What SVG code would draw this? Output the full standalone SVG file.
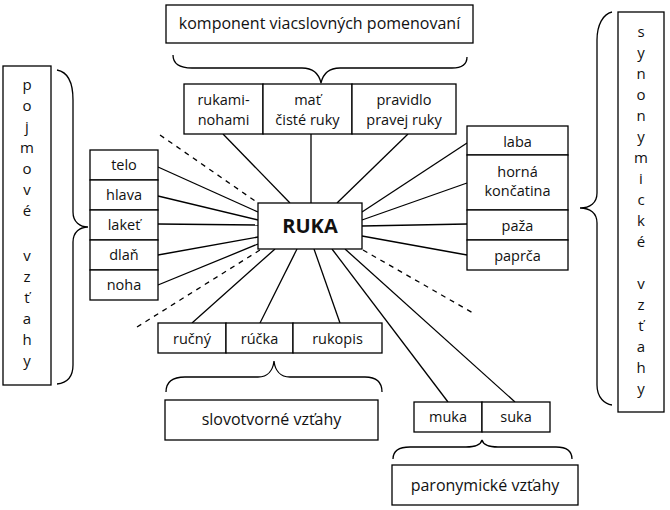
<svg xmlns="http://www.w3.org/2000/svg" width="670" height="510" viewBox="0 0 670 510">
<style>
.b{fill:#fff;stroke:#000;stroke-width:1.3}
.t{font-family:"Open Sans","Liberation Sans",sans-serif;font-size:14.5px;fill:#111;text-anchor:middle}
.l{font-size:16px}
.v{font-family:"Open Sans","Liberation Sans",sans-serif;font-size:15px;fill:#111;text-anchor:middle}
.c{stroke:#000;stroke-width:1.3;fill:none}
.d{stroke:#000;stroke-width:1.3;fill:none;stroke-dasharray:5,5}
.br{stroke:#000;stroke-width:1.3;fill:none}
</style>
<rect width="670" height="510" fill="#fff"/>
<g id="connectors">
<line class="c" x1="223" y1="134" x2="290" y2="203"/>
<line class="c" x1="311" y1="134" x2="311" y2="203"/>
<line class="c" x1="408" y1="134" x2="337" y2="203"/>
<line class="c" x1="362" y1="212" x2="467" y2="143"/>
<line class="c" x1="362" y1="220" x2="467" y2="183"/>
<line class="c" x1="362" y1="226" x2="467" y2="224"/>
<line class="c" x1="362" y1="236" x2="467" y2="255"/>
<line class="c" x1="158" y1="167" x2="258" y2="212"/>
<line class="c" x1="158" y1="196" x2="258" y2="220"/>
<line class="c" x1="158" y1="224" x2="258" y2="225"/>
<line class="c" x1="158" y1="255" x2="258" y2="237"/>
<line class="c" x1="158" y1="285" x2="258" y2="244"/>
<line class="c" x1="192" y1="323" x2="275" y2="249"/>
<line class="c" x1="260" y1="323" x2="297" y2="249"/>
<line class="c" x1="340" y1="323" x2="314" y2="249"/>
<line class="c" x1="332" y1="249" x2="448" y2="402"/>
<line class="c" x1="345" y1="249" x2="515" y2="402"/>
<line class="d" x1="160" y1="135" x2="258" y2="203"/>
<line class="d" x1="137" y1="327" x2="260" y2="250"/>
<line class="d" x1="363" y1="250" x2="473" y2="313"/>
</g>
<g id="braces">
<path class="br" d="M173,55 C173,64 179,68 192,68 L302,68 C313,68 319,74 321,83 C323,74 329,68 340,68 L452,68 C462,68 467,64 467,57"/>
<path class="br" d="M57,70 C68,72 73,82 73,100 L73,212 C73,222 80,227 88,227 C80,227 73,232 73,242 L73,365 C73,378 66,383 57,384"/>
<path class="br" d="M612,12 C603,14 597,25 597,40 L597,193 C597,203 590,208 580,208 C590,208 597,213 597,223 L597,385 C597,398 605,404 612,405"/>
<path class="br" d="M166,392 C166,382 172,377 185,377 L258,377 C268,377 273,370 274,361 C275,370 280,377 290,377 L365,377 C376,377 382,382 382,392"/>
<path class="br" d="M393,459 C393,451 398,447 410,447 L466,447 C476,447 481,444 482,440 C483,444 488,447 498,447 L556,447 C567,447 572,451 572,459"/>
</g>
<g id="komponent">
<rect class="b" x="166" y="5" width="307" height="38"/>
<text class="t l" x="319.5" y="29">komponent viacslovných pomenovaní</text>
</g>
<g id="rukami-nohami">
<rect class="b" x="184" y="84" width="79" height="50"/>
<text class="t" x="223.5" y="105">rukami-</text>
<text class="t" x="223.5" y="125">nohami</text>
</g>
<g id="mat-ciste-ruky">
<rect class="b" x="263" y="84" width="89" height="50"/>
<text class="t" x="307.5" y="105">mať</text>
<text class="t" x="307.5" y="125">čisté ruky</text>
</g>
<g id="pravidlo">
<rect class="b" x="352" y="84" width="104" height="50"/>
<text class="t" x="404" y="105">pravidlo</text>
<text class="t" x="404" y="125">pravej ruky</text>
</g>
<g id="pojmove">
<rect class="b" x="3" y="66" width="48" height="319"/>
<text class="v"><tspan x="27" y="90">p</tspan><tspan x="27" y="111">o</tspan><tspan x="27" y="132">j</tspan><tspan x="27" y="153">m</tspan><tspan x="27" y="174">o</tspan><tspan x="27" y="195">v</tspan><tspan x="27" y="216">é</tspan><tspan x="27" y="261">v</tspan><tspan x="27" y="282">z</tspan><tspan x="27" y="303">ť</tspan><tspan x="27" y="324">a</tspan><tspan x="27" y="345">h</tspan><tspan x="27" y="366">y</tspan></text>
</g>
<g id="telo"><rect class="b" x="90" y="150" width="68" height="30"/><text class="t" x="124" y="170">telo</text></g>
<g id="hlava"><rect class="b" x="90" y="180" width="68" height="30"/><text class="t" x="124" y="200">hlava</text></g>
<g id="laket"><rect class="b" x="90" y="210" width="68" height="30"/><text class="t" x="124" y="230">lakeť</text></g>
<g id="dlan"><rect class="b" x="90" y="240" width="68" height="30"/><text class="t" x="124" y="260">dlaň</text></g>
<g id="noha"><rect class="b" x="90" y="270" width="68" height="30"/><text class="t" x="124" y="290">noha</text></g>
<g id="ruka">
<rect class="b" x="258" y="203" width="104" height="46"/>
<text x="310" y="233" style="font-family:'Open Sans','Liberation Sans',sans-serif;font-size:20px;font-weight:bold;text-anchor:middle;fill:#111">RUKA</text>
</g>
<g id="laba"><rect class="b" x="467" y="126" width="101" height="29"/><text class="t" x="517.5" y="147">laba</text></g>
<g id="horna-koncatina"><rect class="b" x="467" y="155" width="101" height="55"/><text class="t" x="517.5" y="177">horná</text><text class="t" x="517.5" y="196">končatina</text></g>
<g id="paza"><rect class="b" x="467" y="210" width="101" height="30"/><text class="t" x="517.5" y="231">paža</text></g>
<g id="paprca"><rect class="b" x="467" y="240" width="101" height="30"/><text class="t" x="517.5" y="261">paprča</text></g>
<g id="synonymicke">
<rect class="b" x="618" y="12" width="46" height="400"/>
<text class="v"><tspan x="641" y="37">s</tspan><tspan x="641" y="58">y</tspan><tspan x="641" y="79">n</tspan><tspan x="641" y="100">o</tspan><tspan x="641" y="121">n</tspan><tspan x="641" y="142">y</tspan><tspan x="641" y="163">m</tspan><tspan x="641" y="184">i</tspan><tspan x="641" y="205">c</tspan><tspan x="641" y="226">k</tspan><tspan x="641" y="247">é</tspan><tspan x="641" y="289">v</tspan><tspan x="641" y="310">z</tspan><tspan x="641" y="331">ť</tspan><tspan x="641" y="352">a</tspan><tspan x="641" y="373">h</tspan><tspan x="641" y="394">y</tspan></text>
</g>
<g id="rucny"><rect class="b" x="158" y="323" width="68" height="30"/><text class="t" x="192" y="344">ručný</text></g>
<g id="rucka"><rect class="b" x="226" y="323" width="67" height="30"/><text class="t" x="259.5" y="344">rúčka</text></g>
<g id="rukopis"><rect class="b" x="293" y="323" width="89" height="30"/><text class="t" x="337.5" y="344">rukopis</text></g>
<g id="slovotvorne">
<rect class="b" x="165" y="400" width="213" height="40"/>
<text class="t l" x="271.5" y="425">slovotvorné vzťahy</text>
</g>
<g id="muka"><rect class="b" x="414" y="402" width="68" height="30"/><text class="t" x="448" y="422">muka</text></g>
<g id="suka"><rect class="b" x="482" y="402" width="68" height="30"/><text class="t" x="516" y="422">suka</text></g>
<g id="paronymicke">
<rect class="b" x="392" y="465" width="186" height="40"/>
<text class="t l" x="485" y="491">paronymické vzťahy</text>
</g>
</svg>
